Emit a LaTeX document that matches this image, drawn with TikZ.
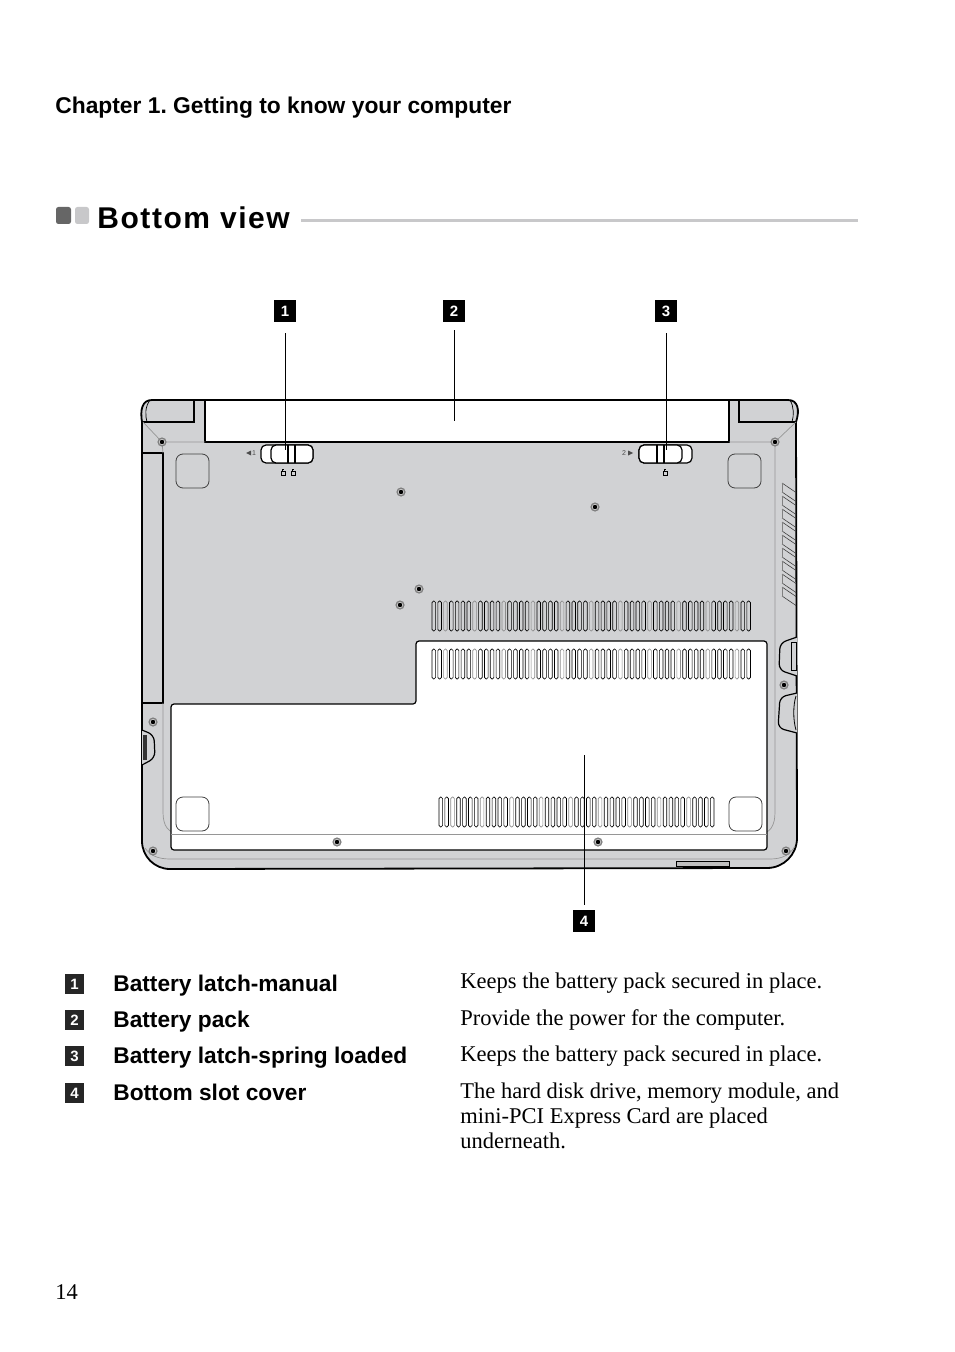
\documentclass[tikz,border=0pt]{standalone}
\usepackage{fontspec}
\setmainfont{Liberation Sans}
\newfontfamily\bodyfont{Liberation Serif}
\newfontfamily\headfont[LetterSpace=5.2]{Liberation Sans}
\usepackage{tikz}
\definecolor{BodyGrey}{RGB}{209,210,212}
\definecolor{EdgeGrey}{RGB}{150,150,150}
\definecolor{RuleGrey}{RGB}{200,200,202}
\frenchspacing

\begin{document}
\begin{tikzpicture}[x=0.5pt,y=-0.5pt,
  txt/.style={inner sep=0pt,anchor=base west},
  chap/.style={txt,font=\fontsize{11.4}{14}\selectfont\bfseries},
  item/.style={txt,font=\fontsize{11.35}{14}\selectfont\bfseries},
  desc/.style={txt,align=left,font=\bodyfont\fontsize{11.25}{12.4}\selectfont},
  tag/.style={fill=black,text=white,inner sep=0pt,minimum size=10.8pt,font=\fontsize{7.5}{8}\selectfont\bfseries},
  keytag/.style={fill=black!85,text=white,inner sep=0pt,minimum size=9.6pt,font=\fontsize{7.5}{8}\selectfont\bfseries},
  leader/.style={line width=0.45pt},
  outline/.style={line width=0.6pt,black},
  thinedge/.style={line width=0.35pt,EdgeGrey},
  pad/.style={line width=0.4pt,black!75,rounded corners=3.5pt},
  slot/.style={line width=0.32pt,rounded corners=0.8pt}]
\useasboundingbox (0,0) rectangle (954,1352);
\node[chap] (chapter) at (55,114) {Chapter 1. Getting to know your computer};
\fill[black!60,rounded corners=1.2pt] (56,207) rectangle (71,224);
\fill[RuleGrey,rounded corners=1.2pt] (75,207) rectangle (89,224);
\node[txt,font=\headfont\fontsize{15}{18}\selectfont\bfseries] (heading) at (97,229) {Bottom view};
\draw[RuleGrey,line width=1.8pt] (301,220.5) -- (858,220.5);
% laptop body
\fill[BodyGrey] (142,422) .. controls (140,410) and (142,400) .. (152,400) -- (788,400) .. controls (798,400) and (800,410) .. (796,422) -- (797,838) arc (0:90:30) -- (170,869) arc (90:180:28) -- cycle;
\fill[white] (205,400) rectangle (729,442);
\draw[outline] (205,400) -- (205,442) -- (729,442) -- (729,400);
\draw[line width=0.9pt] (142,422) .. controls (140,410) and (142,400) .. (152,400) -- (788,400) .. controls (798,400) and (800,410) .. (796,422) -- (797,838) arc (0:90:30) -- (170,869) arc (90:180:28) -- cycle;
% hinges and side panel
\draw[outline,line width=0.8pt] (194,400) -- (194,422) -- (142,422);
\draw[outline,line width=0.8pt] (739,400) -- (739,422) -- (796,422);
\draw[line width=0.35pt] (150,400) .. controls (145,407) and (145,415) .. (147,422);
\draw[line width=0.35pt] (790,400) .. controls (794,407) and (794,415) .. (792,422);
\draw[outline] (142,453) -- (163,453) -- (163,703) -- (142,703);
\draw[thinedge] (143,422) -- (162,442) -- (205,442) (729,442) -- (775,442) -- (796,422);
\draw[thinedge] (162,442) -- (163,453);
\draw[thinedge] (163,703) -- (163,812) .. controls (163,826) and (168,834) .. (182,834) -- (758,834) .. controls (770,834) and (775,826) .. (775,812) -- (775,442);
\draw[thinedge] (145,848) .. controls (150,855) and (157,859) .. (170,859) -- (770,859) .. controls (782,859) and (790,855) .. (795,846);
% bottom cover
\draw[outline,fill=white,rounded corners=1.5pt] (171,704) -- (416,704) -- (416,641) -- (767,641) -- (767,850) -- (171,850) -- cycle;
\draw[thinedge] (171,834) -- (767,834);
% pads
\foreach \x/\y in {176/454,728/454,176/797,729/797} {
  \draw[pad] (\x,\y) rectangle +(33,34);
}
% slots
\foreach \i in {0,...,54} {
  \pgfmathsetmacro{\slx}{432+5.83*\i}
  \pgfmathsetmacro{\slc}{mod(\i,5)==2 ? 45 : 100}
  \draw[slot,black!\slc] (\slx,601) rectangle +(3.6,30);
  \draw[slot,black!\slc] (\slx,649) rectangle +(3.6,30);
}
\foreach \i in {0,...,46} {
  \pgfmathsetmacro{\slx}{439+5.9*\i}
  \pgfmathsetmacro{\slc}{mod(\i,5)==2 ? 45 : 100}
  \draw[slot,black!\slc] (\slx,797) rectangle +(3.6,30);
}
% side vents
\foreach \i in {0,...,8} {
  \pgfmathsetmacro{\vy}{483+13*\i}
  \draw[line width=0.3pt,black!75] (782,\vy) -- (796,\vy+9.5) (782,\vy+9) -- (796,\vy+18.5);
  \draw[line width=0.8pt,black!50] (782.5,\vy) -- (782.5,\vy+10);
}
% side connectors
\draw[outline,fill=BodyGrey,rounded corners=3pt] (797,637) -- (780,643) -- (779,670) -- (797,676);
\draw[line width=0.4pt] (791,642) rectangle (796,670);
\draw[outline,fill=BodyGrey,rounded corners=3pt] (797,693) -- (780,697) -- (778,728) -- (797,733);
\draw[line width=0.4pt] (796,696) .. controls (793,705) and (793,720) .. (796,730);
\draw[outline,fill=BodyGrey,rounded corners=3pt] (142,730) -- (154,735) -- (155,758) -- (142,765);
\fill[black!80] (143,735) rectangle (147,760);
\draw[line width=0.4pt,fill=black!25] (676,861) rectangle (729,866);
% latches
\draw[outline,fill=white,rounded corners=2.5pt] (261,445) rectangle (313,463);
\draw[outline,fill=white,rounded corners=2.5pt] (271,445) rectangle (313,463);
\draw[outline] (288,445) -- (288,463) (295,445) -- (295,463);
\draw[outline,fill=white,rounded corners=2.5pt] (639,445) rectangle (692,463);
\draw[outline,fill=white,rounded corners=2.5pt] (639,445) rectangle (682,463);
\draw[outline] (657,445) -- (657,463) (664,445) -- (664,463);
\fill[black!70] (246,453) -- (251,450.5) -- (251,455.5) -- cycle;
\node[font=\fontsize{3.5}{4}\selectfont,text=black!70,inner sep=0pt] (latchone) at (254,453) {1};
\fill[black!70] (633,453) -- (628,450.5) -- (628,455.5) -- cycle;
\node[font=\fontsize{3.5}{4}\selectfont,text=black!70,inner sep=0pt] (latchtwo) at (624,453) {2};
\foreach \x in {283,293,665} {
  \draw[line width=0.45pt] (\x-2,471.5) rectangle (\x+2,475.5);
  \draw[line width=0.25pt] (\x-1,471.5) -- (\x-1,469.5) -- (\x+1,469.5);
}
% screws
\foreach \x/\y in {162/442,401/492,595/507,419/589,400/605,775/442,153/722,153/851,337/842,598/842,786/851,784/685} {
  \fill[black!50] (\x,\y) circle (4.6);
  \fill[black!20] (\x,\y) circle (3.1);
  \fill[black] (\x,\y) circle (2.2);
}
% callouts
\foreach \1/\x/\y in {1/285/311,2/454/311,3/666/311,4/584/921} {
  \node[tag] (t\1) at (\x,\y) {\1};
}
\coordinate (e1) at (285,450);
\coordinate (e2) at (454,421);
\coordinate (e3) at (666,450);
\coordinate (e4) at (584,755);
\draw[leader,shorten <=5.5pt] (t1) -- (e1);
\draw[leader,shorten <=4pt] (t2) -- (e2);
\draw[leader,shorten <=5.5pt] (t3) -- (e3);
\draw[leader,shorten <=2.5pt] (t4) -- (e4);
% legend
\foreach \1/\y/\t in {1/984/Battery latch-manual,2/1020/Battery pack,3/1056/Battery latch-spring loaded,4/1093/Bottom slot cover} {
  \node[keytag] (k\1) at (74.5,\y) {\1};
  \node[item] (l\1) at (113,\y+7) {\t};
}
\node[desc] (d1) at (460,988) {Keeps the battery pack secured in place.};
\node[desc] (d2) at (460,1025) {Provide the power for the computer.};
\node[desc] (d3) at (460,1061) {Keeps the battery pack secured in place.};
\node[desc] (d4) at (460,1148) {The hard disk drive, memory module, and\\mini-PCI Express Card are placed\\underneath.};
\node[desc] (page) at (55,1299) {14};
\end{tikzpicture}
\end{document}
